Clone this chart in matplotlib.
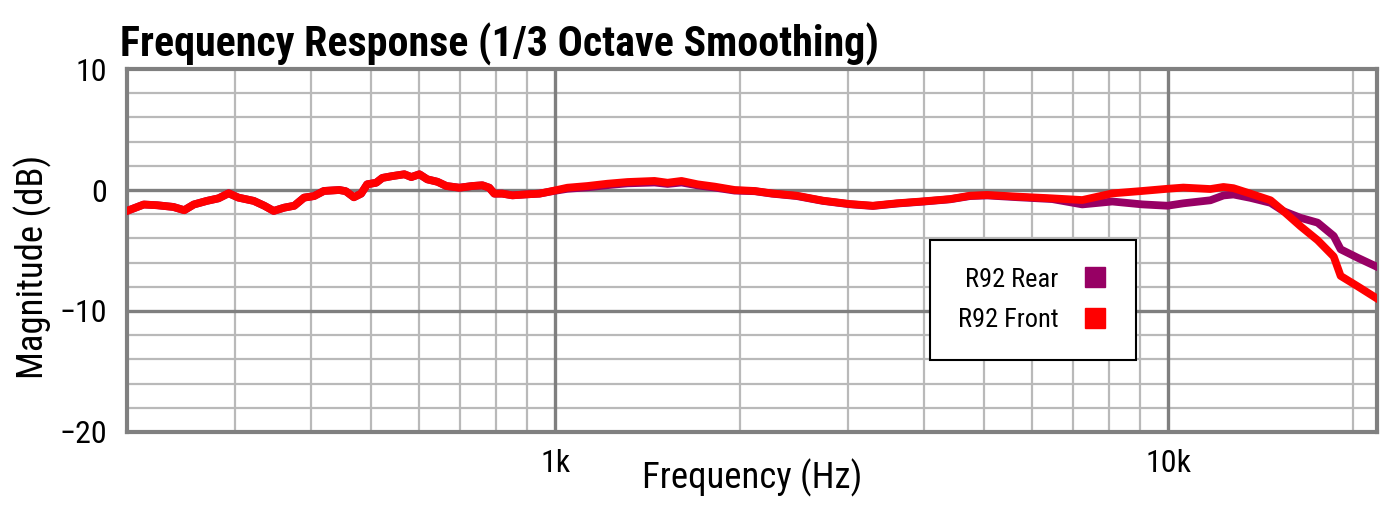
import matplotlib
matplotlib.use("Agg")
import matplotlib.pyplot as plt
from matplotlib.lines import Line2D
from matplotlib import font_manager
import matplotlib.ticker as mticker

# ---- data ----
freq_hz = [200, 213, 224, 238, 248, 257, 270, 282, 293, 304, 322, 335, 347, 361, 375,
           389, 404, 419, 444, 455, 469, 482, 493, 510, 522, 542, 567, 582, 600, 618,
           642, 664, 697, 732, 760, 780, 795, 819, 851, 897, 942, 989, 1046, 1128, 1216,
           1311, 1451, 1524, 1606, 1706, 1819, 1961, 2114, 2254, 2476, 2731, 3023, 3296,
           3607, 3979, 4404, 4749, 5063, 5686, 6465, 7237, 8100, 9069, 9963, 10580,
           11710, 12300, 12770, 13610, 14680, 15410, 16430, 17520, 18610, 19100, 20360, 21790]

front_db = [-1.73, -1.2, -1.26, -1.4, -1.67, -1.2, -0.9, -0.69, -0.27, -0.63, -0.9, -1.3, -1.73, -1.46, -1.3,
            -0.63, -0.5, -0.08, 0.0, -0.1, -0.6, -0.3, 0.47, 0.6, 1.0, 1.15, 1.3, 1.07, 1.3, 0.88,
            0.68, 0.33, 0.19, 0.33, 0.39, 0.19, -0.3, -0.3, -0.44, -0.36, -0.3, -0.08, 0.19, 0.33, 0.52,
            0.66, 0.75, 0.6, 0.75, 0.47, 0.28, 0.0, -0.08, -0.28, -0.47, -0.88, -1.16, -1.3,
            -1.1, -0.94, -0.75, -0.47, -0.41, -0.55, -0.69, -0.83, -0.28, -0.08, 0.1, 0.2,
            0.08, 0.25, 0.15, -0.3, -0.85, -1.75, -3.0, -4.15, -5.5, -7.1, -7.96, -8.9]

rear_db = [-1.73, -1.2, -1.26, -1.4, -1.67, -1.2, -0.9, -0.69, -0.27, -0.63, -0.9, -1.3, -1.73, -1.46, -1.3,
           -0.63, -0.5, -0.08, 0.0, -0.1, -0.6, -0.3, 0.47, 0.6, 1.0, 1.15, 1.3, 1.07, 1.3, 0.88,
           0.68, 0.33, 0.19, 0.33, 0.39, 0.19, -0.3, -0.3, -0.44, -0.36, -0.3, -0.1, 0.1, 0.22, 0.4,
           0.55, 0.62, 0.5, 0.62, 0.38, 0.2, -0.05, -0.1, -0.3, -0.5, -0.9, -1.18, -1.32,
           -1.12, -0.96, -0.77, -0.5, -0.45, -0.6, -0.75, -1.19, -0.95, -1.19, -1.3, -1.1,
           -0.85, -0.45, -0.37, -0.65, -1.06, -1.75, -2.3, -2.7, -3.8, -4.9, -5.6, -6.3]

series_labels = ["R92 Rear", "R92 Front"]
x_tick_vals = [1000, 10000]
x_tick_labels = ["1k", "10k"]
y_tick_vals = [10, 0, -10, -20]
y_tick_labels = ["10", "0", "\u221210", "\u221220"]

# ---- fonts ----
avail = {f.name for f in font_manager.fontManager.ttflist}
fam = "DejaVu Sans"
scale = 1.0
for cand, sc in [("Roboto Condensed", 1.15), ("Liberation Sans Narrow", 1.15),
                 ("DejaVu Sans Condensed", 1.05), ("Roboto", 1.0), ("Lato", 1.0)]:
    if cand in avail:
        fam, scale = cand, sc
        break

# ---- figure ----
fig = plt.figure(figsize=(14, 5.15), dpi=100)
ax = fig.add_axes([0.0907, 0.1612, 0.8929, 0.7048])

ax.set_xscale("log")
ax.set_xlim(200, 21900)
ax.set_ylim(-20, 10)

minor_x = [300, 400, 500, 600, 700, 800, 900, 2000, 3000, 4000, 5000, 6000, 7000, 8000, 9000, 20000]
for fx in minor_x:
    ax.axvline(fx, color="#b9b9b9", lw=1.6, zorder=1)
for fy in [8, 6, 4, 2, -2, -4, -6, -8, -12, -14, -16, -18]:
    ax.axhline(fy, color="#b9b9b9", lw=1.6, zorder=1)
for fx in x_tick_vals:
    ax.axvline(fx, color="#7f7f7f", lw=2.4, zorder=1.5)
for fy in [0, -10]:
    ax.axhline(fy, color="#7f7f7f", lw=2.4, zorder=1.5)

rear_c = "#970064"
front_c = "#ff0000"
ax.plot(freq_hz, rear_db, color=rear_c, lw=5.6, solid_joinstyle="round", zorder=3)
ax.plot(freq_hz, front_db, color=front_c, lw=5.6, solid_joinstyle="round", zorder=4)

for s in ax.spines.values():
    s.set_color("#808080")
    s.set_linewidth(3)

ax.set_xticks(x_tick_vals)
ax.set_xticklabels(x_tick_labels)
ax.xaxis.set_minor_locator(mticker.NullLocator())
ax.set_yticks(y_tick_vals)
ax.set_yticklabels(y_tick_labels)
ax.tick_params(length=0, labelsize=20 * scale)
ax.tick_params(axis="y", pad=14)
ax.tick_params(axis="x", pad=12)
for lab in ax.get_xticklabels() + ax.get_yticklabels():
    lab.set_fontfamily(fam)

ax.set_xlabel("Frequency (Hz)", fontsize=23 * scale, fontfamily=fam)
ax.set_ylabel("Magnitude (dB)", fontsize=23 * scale, fontfamily=fam)
ax.xaxis.set_label_coords(0.5, -0.127)
ax.yaxis.set_label_coords(-0.075, 0.4545)
ax.xaxis.label.set_va("center")
ax.yaxis.label.set_va("center")

fig.text(0.0857, 0.89, "Frequency Response (1/3 Octave Smoothing)", fontsize=26.3 * scale,
         fontweight="bold", fontfamily=fam, ha="left", va="baseline")

handles = [Line2D([], [], marker="s", linestyle="none", color=rear_c, markersize=14),
           Line2D([], [], marker="s", linestyle="none", color=front_c, markersize=14)]
leg = ax.legend(handles, series_labels, markerfirst=False, loc="upper left",
                bbox_to_anchor=(0.6424, 0.529), prop={"family": fam, "size": 16.5 * scale},
                frameon=True, fancybox=False, borderpad=1.05, labelspacing=0.62,
                handletextpad=0.9, handlelength=1.0, borderaxespad=0)
leg.get_frame().set_edgecolor("black")
leg.get_frame().set_linewidth(1.5)
leg.get_frame().set_alpha(1)
leg.set_zorder(10)

fig.savefig("out.png", dpi=100, facecolor="white")
